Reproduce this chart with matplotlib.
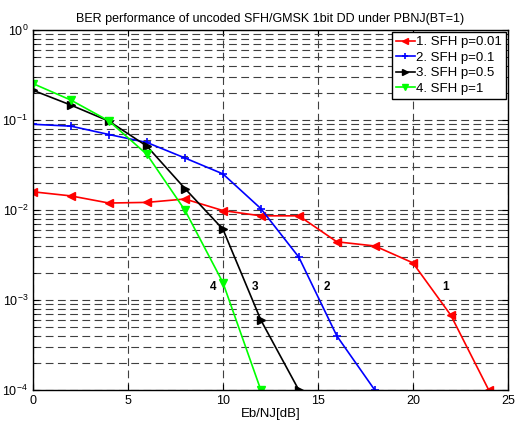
import matplotlib
matplotlib.use("Agg")
import matplotlib.pyplot as plt
from matplotlib.ticker import LogLocator, NullFormatter, FixedLocator

plt.rcParams['font.family'] = ['Liberation Sans', 'DejaVu Sans']

ebnj = [0, 2, 4, 6, 8, 10, 12, 14, 16, 18, 20, 22, 24]
ber_p001 = [0.016, 0.0144, 0.012, 0.0122, 0.0133, 0.0099, 0.00865, 0.00865, 0.00445, 0.0040, 0.0026, 0.00068, 0.0001]
x_p01 = [0, 2, 4, 6, 8, 10, 12, 14, 16, 18]
ber_p01 = [0.090, 0.0858, 0.0693, 0.0565, 0.038, 0.0253, 0.0104, 0.0030, 0.0004, 0.0001]
x_p05 = [0, 2, 4, 6, 8, 10, 12, 14]
ber_p05 = [0.215, 0.147, 0.0975, 0.0514, 0.0174, 0.00615, 0.0006, 0.0001]
x_p1 = [0, 2, 4, 6, 8, 10, 12]
ber_p1 = [0.255, 0.167, 0.098, 0.0416, 0.010, 0.00157, 0.0001]

labels = ['1. SFH p=0.01', '2. SFH p=0.1', '3. SFH p=0.5', '4. SFH p=1']
annot_text = ['1', '2', '3', '4']
annot_x = [21.7, 15.45, 11.7, 9.5]
annot_y = [0.0014, 0.0014, 0.0014, 0.0014]

fig = plt.figure(figsize=(5.15, 4.25), dpi=100)
ax = fig.add_axes([0.064, 0.082, 0.922, 0.847])

ms = 5.5
ax.semilogy(ebnj, ber_p001, color='red', marker='<', markersize=ms, lw=1.2, label=labels[0])
ax.semilogy(x_p01, ber_p01, color='blue', marker='+', markersize=ms, mew=1.2, lw=1.2, label=labels[1])
ax.semilogy(x_p05, ber_p05, color='black', marker='>', markersize=ms, lw=1.2, label=labels[2])
ax.semilogy(x_p1, ber_p1, color='#00ff00', marker='v', markersize=ms, lw=1.2, label=labels[3])

for t, x, y in zip(annot_text, annot_x, annot_y):
    ax.text(x, y, t, fontsize=8.5, fontweight='bold', ha='center', va='center')

ax.set_xlim(0, 25)
ax.set_ylim(1e-4, 1)
ax.xaxis.set_major_locator(FixedLocator([0, 5, 10, 15, 20, 25]))
ax.yaxis.set_major_locator(LogLocator(base=10, numticks=10))
ax.yaxis.set_minor_locator(LogLocator(base=10, subs=range(2, 10), numticks=20))
ax.yaxis.set_minor_formatter(NullFormatter())

ax.grid(True, which='major', axis='both', color='#404040', linestyle=(0, (7, 4)), lw=0.8)
ax.grid(True, which='minor', axis='y', color='#404040', linestyle=(0, (7, 4)), lw=0.8)

ax.tick_params(direction='in', which='both', top=True, right=True, labelsize=9, length=4)
ax.tick_params(which='minor', length=2)
for s in ax.spines.values():
    s.set_linewidth(1.0)

ax.set_title('BER performance of uncoded SFH/GMSK 1bit DD under PBNJ(BT=1)', fontsize=9, pad=6)
ax.set_xlabel('Eb/NJ[dB]', fontsize=9.5, labelpad=1)

leg = ax.legend(loc='upper right', fontsize=9.5, fancybox=False, framealpha=1,
                edgecolor='black', handlelength=1.4, handletextpad=0.1,
                borderpad=0.3, labelspacing=0.25, borderaxespad=0.15, markerscale=0.9)
leg.get_frame().set_linewidth(1.0)

fig.savefig('out.png', dpi=100)
